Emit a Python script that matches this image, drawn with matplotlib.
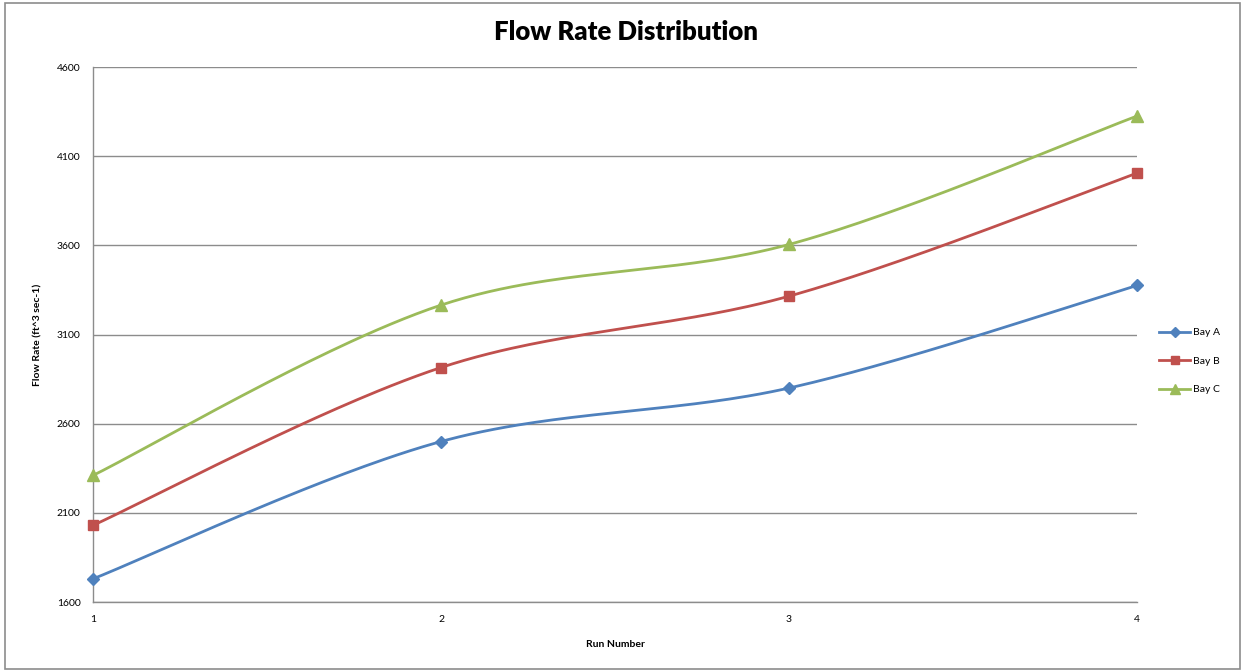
import numpy as np
import matplotlib.pyplot as plt
from matplotlib.patches import Rectangle

runs = [1, 2, 3, 4]
bay_a = [1730, 2500, 2800, 3375]
bay_b = [2030, 2915, 3315, 4005]
bay_c = [2310, 3265, 3605, 4325]
y_ticks = [1600, 2100, 2600, 3100, 3600, 4100, 4600]

series = [
    ("Bay A", bay_a, "#4F81BD", "D", 6.5),
    ("Bay B", bay_b, "#C0504D", "s", 7.0),
    ("Bay C", bay_c, "#9BBB59", "^", 8.0),
]


def smooth(xs, ys, n=60):
    """Catmull-Rom style smoothing through every point (cubic Bezier segments)."""
    xs = np.asarray(xs, float)
    ys = np.asarray(ys, float)
    px = np.concatenate([[xs[0]], xs, [xs[-1]]])
    py = np.concatenate([[ys[0]], ys, [ys[-1]]])
    out_x, out_y = [], []
    t = np.linspace(0, 1, n)
    for i in range(1, len(px) - 2):
        p0 = np.array([px[i], py[i]])
        p3 = np.array([px[i + 1], py[i + 1]])
        c1 = p0 + (np.array([px[i + 1], py[i + 1]]) - np.array([px[i - 1], py[i - 1]])) / 6
        c2 = p3 - (np.array([px[i + 2], py[i + 2]]) - np.array([px[i], py[i]])) / 6
        b = ((1 - t) ** 3)[:, None] * p0 + (3 * (1 - t) ** 2 * t)[:, None] * c1 \
            + (3 * (1 - t) * t ** 2)[:, None] * c2 + (t ** 3)[:, None] * p3
        out_x.append(b[:, 0])
        out_y.append(b[:, 1])
    return np.concatenate(out_x), np.concatenate(out_y)


plt.rcParams['font.family'] = ['Lato', 'DejaVu Sans']

fig = plt.figure(figsize=(12.47, 6.71), dpi=100)
fig.patches.append(Rectangle((0.004, 0.003), 0.99, 0.993, transform=fig.transFigure,
                             fill=False, edgecolor="#8c8c8c", linewidth=1.2))

ax = fig.add_axes([0.0746, 0.1028, 0.8372, 0.7973])

for name, vals, color, marker, ms in series:
    sx, sy = smooth(runs, vals)
    ax.plot(sx, sy, color=color, linewidth=2.0, solid_capstyle='round', zorder=3)
    ax.plot(runs, vals, linestyle='none', marker=marker, color=color,
            markersize=ms, zorder=4, clip_on=False)
    ax.plot([], [], color=color, linewidth=2.0, marker=marker,
            markersize=ms * 0.85, label=name)

ax.set_xlim(1, 4)
ax.set_ylim(1600, 4600)
ax.set_xticks(runs)
ax.set_yticks(y_ticks)
ax.tick_params(axis='both', length=0, labelsize=7.5, colors="#000000")
ax.tick_params(axis='x', pad=9)
ax.tick_params(axis='y', pad=9)
ax.grid(axis='y', color="#8c8c8c", linewidth=1.0)
ax.set_axisbelow(True)
for s in ['top', 'right']:
    ax.spines[s].set_visible(False)
for s in ['left', 'bottom']:
    ax.spines[s].set_color("#8c8c8c")
    ax.spines[s].set_linewidth(1.0)

ax.set_xlabel("Run Number", fontsize=7.5, fontweight='bold', labelpad=12)
ax.set_ylabel("Flow Rate (ft^3 sec-1)", fontsize=7.5, fontweight='bold', labelpad=10)
fig.text(0.502, 0.952, "Flow Rate Distribution", ha='center', va='center',
         fontsize=18.5, fontweight='heavy')

leg = ax.legend(loc='center left', bbox_to_anchor=(1.012, 0.45), frameon=False,
                fontsize=7.5, handlelength=3.0, handletextpad=0.3, labelspacing=1.85)

fig.savefig("out.png", dpi=100)
